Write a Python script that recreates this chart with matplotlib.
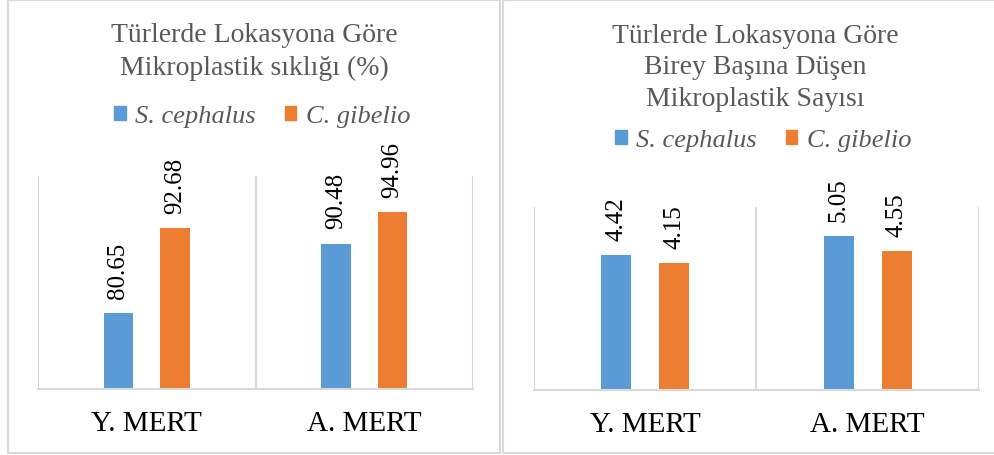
import matplotlib
matplotlib.use("Agg")
import matplotlib.pyplot as plt
from matplotlib.patches import Rectangle, Patch

# data
categories = ["Y. MERT", "A. MERT"]
series = ["S. cephalus", "C. gibelio"]
freq_cephalus = [80.65, 90.48]
freq_gibelio = [92.68, 94.96]
count_cephalus = [4.42, 5.05]
count_gibelio = [4.15, 4.55]

title_left = "Türlerde Lokasyona Göre\nMikroplastik sıklığı (%)"
title_right = "Türlerde Lokasyona Göre\nBirey Başına Düşen\nMikroplastik Sayısı"

blue = "#5B9BD5"
orange = "#ED7D31"
grid = "#D9D9D9"
gray_txt = "#595959"

plt.rcParams["font.family"] = ["Liberation Serif", "DejaVu Serif"]

W, H = 995, 456
fig = plt.figure(figsize=(W / 100, H / 100), dpi=100)

def fx(px):
    return px / W

def fy(py):
    return 1 - py / H

# panel borders
for x0, x1 in [(8, 500), (503, 1010)]:
    fig.patches.append(Rectangle((fx(x0), fy(454)), fx(x1 - x0), (454 - 1) / H,
                                 transform=fig.transFigure, fill=False,
                                 edgecolor=grid, linewidth=1.5))

def panel(rect, v1, v2, ylim, title, tx, ty, lx, ly):
    ax = fig.add_axes(rect)
    x = range(len(categories))
    off, bw = 0.13, 0.134
    b1 = ax.bar([i - off for i in x], v1, bw, color=blue)
    b2 = ax.bar([i + off for i in x], v2, bw, color=orange)
    for bars, vals in [(b1, v1), (b2, v2)]:
        for b, v in zip(bars, vals):
            ax.annotate(f"{v:.2f}", (b.get_x() + b.get_width() / 2, b.get_height()),
                        xytext=(0, 11), textcoords="offset points",
                        rotation=90, ha="center", va="bottom",
                        fontsize=18, color="black")
    ax.set_ylim(*ylim)
    ax.set_xlim(-0.5, 1.5)
    ax.set_xticks(list(x))
    ax.set_xticklabels(categories, fontsize=21, color="black")
    ax.set_xticks([-0.5, 0.5, 1.5], minor=True)
    ax.tick_params(axis="x", which="both", length=0, pad=15)
    ax.grid(which="minor", axis="x", color=grid, linewidth=1.5)
    ax.set_yticks([])
    for s in ["top", "left", "right"]:
        ax.spines[s].set_visible(False)
    ax.spines["bottom"].set_color(grid)
    ax.spines["bottom"].set_linewidth(1.5)
    ax.set_axisbelow(True)

    fig.text(tx, ty, title, ha="center", va="center", fontsize=20,
             color=gray_txt, linespacing=1.36)
    handles = [Patch(color=blue), Patch(color=orange)]
    leg = fig.legend(handles, series, loc="center", bbox_to_anchor=(lx, ly),
                     ncol=2, frameon=False, handlelength=0.45, handleheight=0.45,
                     handletextpad=0.35, columnspacing=1.1,
                     prop={"style": "italic", "size": 19})
    for t in leg.get_texts():
        t.set_color(gray_txt)
    return ax

panel([fx(38), fy(390), fx(473 - 38), (390 - 177) / H], freq_cephalus, freq_gibelio,
      (70, 100), title_left, fx(254), fy(52), fx(262), fy(117))
panel([fx(534), fy(391), fx(979 - 534), (391 - 208) / H], count_cephalus, count_gibelio,
      (0, 6), title_right, fx(755), fy(68), fx(763), fy(141))

fig.savefig("out.png", dpi=100)
